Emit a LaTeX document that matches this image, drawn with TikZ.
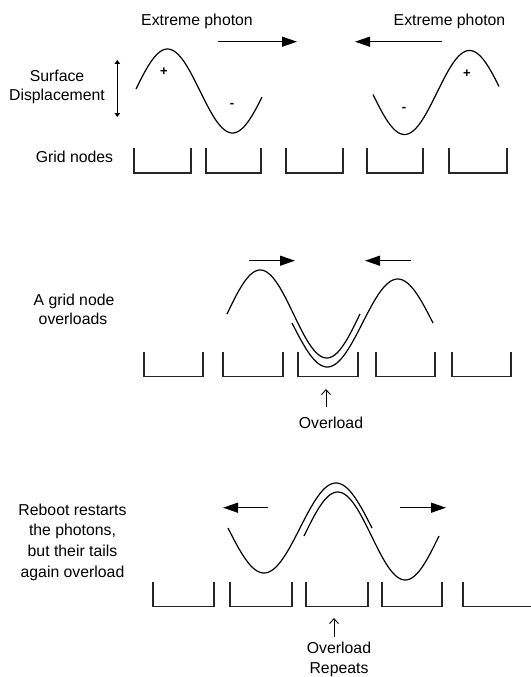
\documentclass[tikz,border=0pt]{standalone}
\usepackage{fontspec}
\setmainfont{Liberation Sans}
\usetikzlibrary{arrows.meta}
\tikzset{
  lbl/.style={font=\fontsize{15.8}{19.3}\selectfont, inner sep=0pt, anchor=base},
  sgn/.style={font=\fontsize{13}{13}\bfseries\selectfont, inner sep=0pt},
  wave/.style={line width=1.2pt, samples=80, smooth},
  slot/.style={line width=1.1pt, draw=black!85},
  bigarrow/.style={line width=1.2pt, -{Triangle[length=15pt,width=10pt]}},
  updown/.style={line width=1pt, {Triangle[length=4pt,width=5.5pt]}-{Triangle[length=4pt,width=5.5pt]}},
  uparrow/.style={line width=0.9pt, -{Straight Barb[length=5pt,width=9pt,line width=0.9pt]}}
}
\newcommand{\slotbox}[3]{\draw[slot] (#1,#3) -- (#1,#3+25) -- (#2,#3+25) -- (#2,#3);}
\begin{document}
\begin{tikzpicture}[x=1pt,y=-1pt]
\useasboundingbox (0,0) rectangle (530,677);
% ---------- Row 1 ----------
\node[lbl] (ep1) at (197,26) {Extreme photon};
\node[lbl] (ep2) at (449.5,26) {Extreme photon};
\coordinate (a1s) at (218,41.7); \coordinate (a1e) at (297,41.7);
\coordinate (a2s) at (442,41.7); \coordinate (a2e) at (355,41.7);
\draw[bigarrow] (a1s) -- (a1e);
\draw[bigarrow] (a2s) -- (a2e);
\node[lbl] (sd1) at (57,81.5) {Surface};
\node[lbl] (sd2) at (57,100.5) {Displacement};
\coordinate (ud1) at (117.3,60); \coordinate (ud2) at (117.3,117);
\draw[updown] (ud1) -- (ud2);
\draw[wave, domain=136:262] plot (\x,{91-42*sin(2.76923*(\x-135))});
\draw[wave, domain=373:499] plot (\x,{92.5+42*sin(2.76923*(\x-372))});
\node[sgn] (p1) at (164,72) {+};
\node[sgn] (m1) at (232,105) {-};
\node[sgn] (m2) at (404,109) {-};
\node[sgn] (p2) at (467,74) {+};
\node[lbl] (gn) at (74.5,162.5) {Grid nodes};
\slotbox{134}{191}{148}
\slotbox{206}{261}{148}
\slotbox{286}{343}{148}
\slotbox{367}{423}{148}
\slotbox{449}{507}{148}
% ---------- Row 2 ----------
\coordinate (b1s) at (249,260.7); \coordinate (b1e) at (295,260.7);
\coordinate (b2s) at (411,260.7); \coordinate (b2e) at (365,260.7);
\draw[bigarrow] (b1s) -- (b1e);
\draw[bigarrow] (b2s) -- (b2e);
\node[lbl] (ag1) at (74,305) {A grid node};
\node[lbl] (ag2) at (73,324.3) {overloads};
\draw[wave, domain=227:360] plot (\x,{314-44*sin(2.70677*(\x-227))});
\draw[wave, domain=292:433] plot (\x,{323+44*sin(2.55319*(\x-292))});
\slotbox{144}{203}{351.7}
\slotbox{223}{283}{351.7}
\slotbox{298}{358}{351.7}
\slotbox{376}{435}{351.7}
\slotbox{452}{511}{351.7}
\coordinate (u1s) at (326,407); \coordinate (u1e) at (326,389);
\draw[uparrow] (u1s) -- (u1e);
\node[lbl] (ov1) at (331,428.3) {Overload};
% ---------- Row 3 ----------
\coordinate (c1s) at (268,507.7); \coordinate (c1e) at (223,507.7);
\coordinate (c2s) at (400,507.7); \coordinate (c2e) at (446,507.7);
\draw[bigarrow] (c1s) -- (c1e);
\draw[bigarrow] (c2s) -- (c2e);
\node[lbl] (rb1) at (72.5,515) {Reboot restarts};
\node[lbl] (rb2) at (72.5,535.7) {the photons,};
\node[lbl] (rb3) at (72.5,556.4) {but their tails};
\node[lbl] (rb4) at (72.5,577) {again overload};
\draw[wave, domain=228:372] plot (\x,{528+45*sin(2.5*(\x-228))});
\draw[wave, domain=304:439] plot (\x,{536-44*sin(2.66667*(\x-304))});
\slotbox{153}{214}{581.7}
\slotbox{230}{292}{581.7}
\slotbox{306}{368}{581.7}
\slotbox{382}{442}{581.7}
\draw[slot] (463,581.7) -- (463,606.7) -- (531,606.7);
\coordinate (u2s) at (334,637); \coordinate (u2e) at (334,618);
\draw[uparrow] (u2s) -- (u2e);
\node[lbl] (or1) at (339,653.3) {Overload};
\node[lbl] (or2) at (339,673.3) {Repeats};
\end{tikzpicture}
\end{document}
